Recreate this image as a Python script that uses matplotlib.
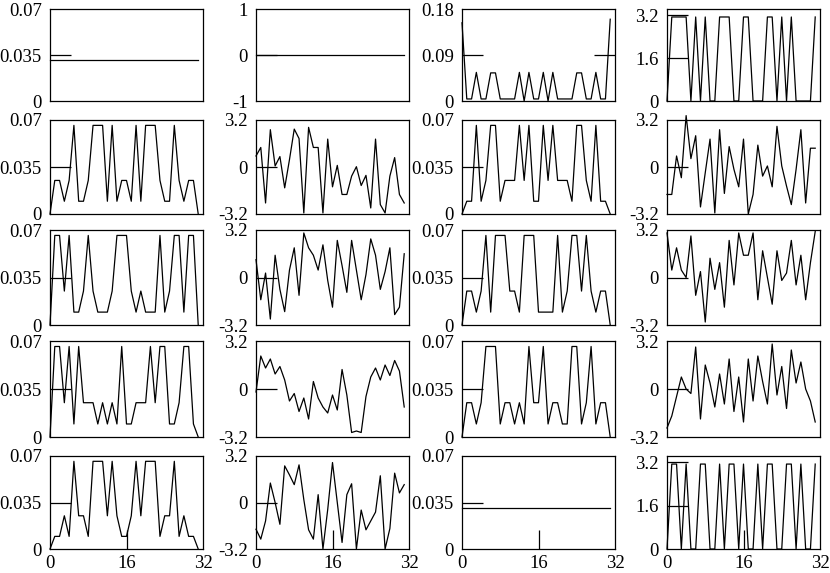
import numpy as np
import matplotlib.pyplot as plt

plt.rcParams['font.family'] = ['Liberation Serif', 'DejaVu Serif']

PI = 3.14159
# amplitude levels seen in the picture
a0, b, c, d = 0.0, 0.0095, 0.025, 0.066

n = np.arange(32)

# row 1
r1c1 = [0.031] * 32
r1c2 = [0.0] * 32
r1c3 = [0.153, 0.004, 0.004, 0.056, 0.004, 0.004, 0.055, 0.055, 0.004, 0.004, 0.004, 0.004,
        0.056, 0.0, 0.056, 0.004, 0.004, 0.056, 0.0, 0.056, 0.004, 0.004, 0.004, 0.004,
        0.055, 0.055, 0.004, 0.004, 0.056, 0.004, 0.004, 0.160]
r1c4 = [0, PI, PI, PI, PI, 0, PI, 0, PI, 0, 0, PI, PI, PI, 0, 0,
        PI, PI, 0, 0, 0, PI, PI, 0, PI, 0, PI, 0, 0, 0, 0, PI]

# row 2
r2c1 = [a0, c, c, b, c, d, b, b, c, d, d, d, b, d, b, c,
        c, b, d, b, d, d, d, c, b, b, d, c, b, c, c, a0]
r2c2 = [0.75, 1.33, -2.45, 2.54, 0.07, 0.71, -1.42, 0.5, 2.58, 1.94, -3.13, 2.7, 1.33, 1.33, -3.13, 1.9,
        -1.35, 0.11, -1.87, -1.87, -0.62, 0.02, -1.26, -0.57, -2.79, 1.9, -2.56, -3.13, -0.62, 0.64, -1.87, -2.45]
r2c3 = [a0, b, b, d, b, c, d, d, b, c, c, c, d, c, d, b,
        b, d, c, d, c, c, c, b, d, d, c, b, d, b, b, a0]
r2c4 = [-1.87, -1.87, 0.75, -0.73, 3.5, 0.57, 2.13, -2.72, -0.39, 1.9, -3.13, 2.54, -1.8, 1.39, -0.16, -1.35,
        1.9, -3.2, -1.87, 1.49, -0.62, 0.07, -1.35, 2.77, 0.07, -1.3, -2.56, -0.16, 2.54, -2.45, 1.28, 1.28]

# row 3
r3c1 = [a0, d, d, c, d, b, b, c, d, c, b, b, b, c, d, d,
        d, c, b, c, b, b, b, d, b, c, d, d, b, d, d, a0]
r3c2 = [1.2, -1.5, 0.3, -2.8, 1.5, -0.8, -2.3, 0.5, 2.0, -1.2, 3.0, 2.0, 1.5, 0.5, 2.2, -0.2,
        -2.0, 2.5, 0.8, -1.0, 2.5, 0.5, -1.5, 0.2, 2.6, 1.5, -0.8, 0.4, 2.0, -2.5, -2.0, 1.6]
r3c3 = [a0, c, c, b, c, d, b, d, d, d, c, c, b, d, d, d,
        b, b, b, b, d, b, c, d, d, c, d, c, b, c, c, a0]
r3c4 = [3.0, 0.5, 2.0, 0.5, 0.0, 2.8, -1.2, 0.4, -3.0, 1.3, -0.8, 1.0, -2.0, 2.5, -0.5, 3.0,
        1.5, 1.5, 3.0, -1.5, 1.8, 0.0, -1.8, 1.8, -0.2, 0.3, 2.5, -0.5, 1.5, -1.5, 1.0, 3.1]

# row 4
r4c1 = [a0, d, d, c, d, b, d, c, c, c, b, c, b, c, b, d,
        b, b, c, c, c, d, c, d, d, b, b, c, d, d, b, a0]
r4c2 = [-0.2, 2.2, 1.4, 2.0, 1.0, 1.5, 0.6, -0.8, -0.3, -1.5, -0.6, -2.0, 0.5, -0.6, -1.2, -1.6,
        -0.4, -1.4, 1.3, -0.4, -2.9, -2.8, -2.9, -0.5, 0.8, 1.4, 0.6, 1.6, 0.9, 1.9, 1.2, -1.2]
r4c3 = [a0, c, c, b, c, d, d, d, b, c, c, b, c, b, d, c,
        c, d, b, c, c, b, b, d, d, b, c, d, b, c, c, a0]
r4c4 = [-2.6, -1.8, -0.5, 0.8, 0.0, -0.3, 2.8, -2.0, 1.6, 0.4, -1.2, 1.0, -1.0, 2.0, -1.5, 0.8,
        -2.2, 2.0, -0.8, 2.2, 0.5, -1.0, 3.0, -0.4, 1.5, -1.3, 2.6, 0.4, 1.8, 0.0, -0.8, -2.2]

# row 5
r5c1 = [a0, b, b, c, b, d, c, c, b, d, d, d, c, d, c, b,
        b, c, d, c, d, d, d, b, c, c, d, b, c, b, b, a0]
r5c2 = [-1.84, -2.52, -1.27, 1.34, 0.0, -1.5, 2.52, 1.9, 1.23, 2.59, 0.2, -1.88, -2.52, 0.54, -3.2, -0.48,
        2.75, 0.0, -2.75, 0.54, 1.29, -3.2, -0.52, -1.88, -1.27, -0.66, 1.84, -3.2, -1.79, 2.02, 0.66, 1.23]
r5c3 = [0.0305] * 32
r5c4 = [0, PI, PI, 0, PI, 0, 0, PI, PI, 0, 0, PI, 0, PI, PI, 0,
        PI, 0, 0, PI, 0, PI, PI, 0, 0, PI, PI, 0, PI, 0, 0, PI]

amp = (0, 0.07, [0, 0.035, 0.07], ['0', '0.035', '0.07'])
phs = (-3.2, 3.2, [-3.2, 0, 3.2], ['-3.2', '0', '3.2'])
pos = (0, 3.44, [0, 1.6, 3.2], ['0', '1.6', '3.2'])

grid = [
    [(r1c1, amp), (r1c2, (-1, 1, [-1, 0, 1], ['-1', '0', '1'])),
     (r1c3, (0, 0.18, [0, 0.09, 0.18], ['0', '0.09', '0.18'])), (r1c4, pos)],
    [(r2c1, amp), (r2c2, phs), (r2c3, amp), (r2c4, phs)],
    [(r3c1, amp), (r3c2, phs), (r3c3, amp), (r3c4, phs)],
    [(r4c1, amp), (r4c2, phs), (r4c3, amp), (r4c4, phs)],
    [(r5c1, amp), (r5c2, phs), (r5c3, amp), (r5c4, pos)],
]

W, H = 830, 573
fig = plt.figure(figsize=(W / 100, H / 100), dpi=100)

lefts = [50, 256, 462, 667]
tops = [9, 120, 230, 341, 456]
bottoms = [101, 214, 325, 437, 549]
pw = 153

for r in range(5):
    for col in range(4):
        vals, (lo, hi, yt, ytl) = grid[r][col]
        ax = fig.add_axes([lefts[col] / W, 1 - bottoms[r] / H, pw / W, (bottoms[r] - tops[r]) / H])
        ax.plot(n, vals, color='black', lw=0.9, clip_on=False)
        ax.set_xlim(0, 32)
        ax.set_ylim(lo, hi)
        ax.set_yticks(yt)
        ax.set_yticklabels(ytl)
        ax.tick_params(axis='y', direction='in', length=15, width=0.9, pad=6,
                       labelsize=13.5, right=(r == 0 and col == 2))
        # tick marks lying on the frame are not drawn
        for t, v in zip(ax.yaxis.get_major_ticks(), yt):
            if v == lo or v == hi:
                t.tick1line.set_visible(False)
                t.tick2line.set_visible(False)
        if r == 4:
            ax.set_xticks([0, 16, 32])
            ax.set_xticklabels(['0', '16', '32'])
            ax.tick_params(axis='x', direction='in', length=14, width=0.9, pad=4, labelsize=13.5)
            for t, v in zip(ax.xaxis.get_major_ticks(), [0, 16, 32]):
                if v != 16:
                    t.tick1line.set_visible(False)
                    t.tick2line.set_visible(False)
        else:
            ax.set_xticks([])
        for s in ax.spines.values():
            s.set_linewidth(0.9)

fig.savefig('out.png', dpi=100)
